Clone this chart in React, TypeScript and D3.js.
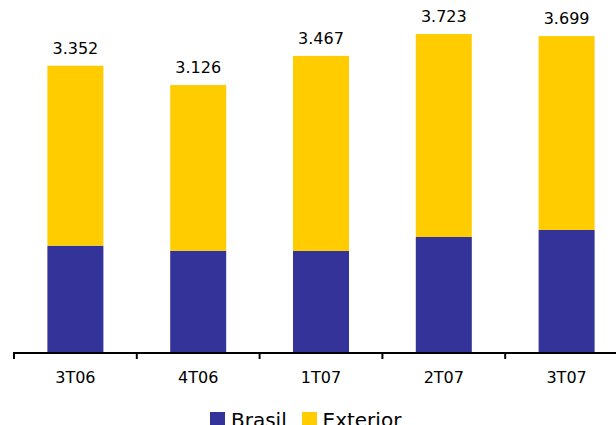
import React from "react";
import * as d3 from "d3";

const categories = ["3T06", "4T06", "1T07", "2T07", "3T07"];
const brasil = [1245, 1186, 1183, 1347, 1429];
const totals = [3352, 3126, 3467, 3723, 3699];
const exterior = totals.map((t, i) => t - brasil[i]);
const totalLabels = ["3.352", "3.126", "3.467", "3.723", "3.699"];
const seriesNames = ["Brasil", "Exterior"];
const seriesColors = ["#333399", "#FFCC00"];

const W = 616;
const H = 425;
const baseline = 352;
const FONT = "'DejaVu Sans', Verdana, sans-serif";

export default function App() {
  const x = d3
    .scaleBand<string>()
    .domain(categories)
    .range([14, 628])
    .paddingInner(0.544)
    .paddingOuter(0.272);
  const y = d3.scaleLinear().domain([0, 4000]).range([baseline, baseline - 4000 * 0.0854]);

  const rows = categories.map((c, i) => ({ cat: c, Brasil: brasil[i], Exterior: exterior[i] }));
  const stacked = d3.stack<any>().keys(seriesNames)(rows);

  const step = x.step();
  const tickXs = d3.range(categories.length + 1).map((i) => 14 + i * step);

  return (
    <svg
      width={W}
      height={H}
      style={{ position: "absolute", left: 0, top: 0, display: "block", background: "#fff" }}
      fontFamily={FONT}
    >
      {stacked.map((layer, si) => (
        <g key={layer.key} fill={seriesColors[si]}>
          {layer.map((d, i) => (
            <rect
              key={i}
              x={x(categories[i])}
              y={y(d[1])}
              width={x.bandwidth()}
              height={y(d[0]) - y(d[1])}
            />
          ))}
        </g>
      ))}

      {categories.map((c, i) => (
        <text
          key={c}
          x={(x(c) as number) + x.bandwidth() / 2}
          y={y(totals[i]) - 12}
          textAnchor="middle"
          fontSize={16}
          fill="#000"
        >
          {totalLabels[i]}
        </text>
      ))}

      <line x1={14} x2={W} y1={353} y2={353} stroke="#000" strokeWidth={2} />
      {tickXs.map((tx, i) => (
        <line key={i} x1={tx} x2={tx} y1={352} y2={359} stroke="#000" strokeWidth={2} />
      ))}

      {categories.map((c) => (
        <text
          key={c}
          x={(x(c) as number) + x.bandwidth() / 2}
          y={383}
          textAnchor="middle"
          fontSize={16}
          fill="#000"
        >
          {c}
        </text>
      ))}

      <g>
        <rect x={210} y={412} width={15} height={15} fill={seriesColors[0]} />
        <text x={231} y={426.5} fontSize={20} fill="#000">
          {seriesNames[0]}
        </text>
        <rect x={302} y={412} width={15} height={15} fill={seriesColors[1]} />
        <text x={322.5} y={426.5} fontSize={20} fill="#000">
          {seriesNames[1]}
        </text>
      </g>
    </svg>
  );
}
